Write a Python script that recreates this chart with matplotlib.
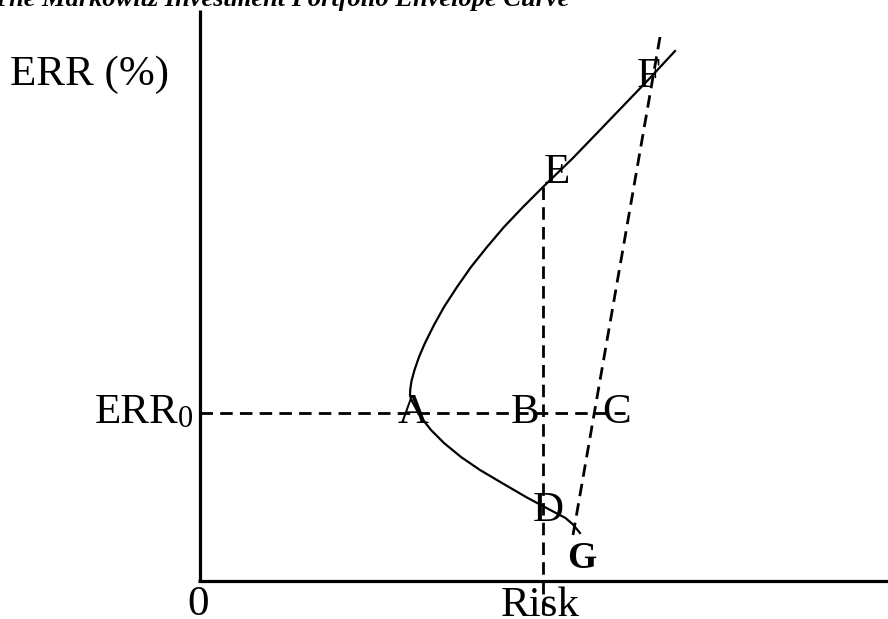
import matplotlib
matplotlib.use("Agg")
import matplotlib.pyplot as plt

# ---- data (risk / expected rate of return, diagram units) ----
frontier_risk = [475, 450, 425, 400, 372, 343, 323, 304, 287, 271, 257, 244, 234, 225,
                 219, 214.5, 211.5, 210.3, 210, 211, 213, 220.7, 231, 244, 261, 280,
                 302, 326, 346.5, 365.5, 373, 380]
frontier_return = [530, 503, 477, 451, 422, 394, 374, 354, 334, 314, 294, 274, 256, 238,
                   224, 211, 200, 192, 186, 182, 178, 164, 151, 138, 124, 111,
                   98, 84, 73, 63, 56.5, 48]

err0_line_risk = [0, 425]
err0_line_return = [168, 168]

risk_b_line_risk = [343, 343]
risk_b_line_return = [394, -40]

cml_risk = [460, 373]
cml_return = [544, 46]

axis_x_risk = [-2, 690]
axis_x_return = [0, 0]
axis_y_risk = [0, 0]
axis_y_return = [-1, 571]

point_labels = ["A", "B", "C", "D", "E", "F"]
point_label_risk = [213, 325, 417, 348, 357, 449]
point_label_return = [158, 158, 158, 60, 398, 494]

title_text = "The Markowitz Investment Portfolio Envelope Curve"
y_label = "ERR (%)"
x_label = "Risk"
origin_label = "0"

W, H = 888, 619
fig = plt.figure(figsize=(W / 100, H / 100), dpi=100)
ax = fig.add_axes([0, 0, 1, 1])
ax.set_xlim(-200, W - 200)
ax.set_ylim(581 - H, 581)
ax.axis("off")

serif = ["Liberation Serif", "DejaVu Serif"]

# axes lines
ax.plot(axis_x_risk, axis_x_return, color="black", lw=2.3, solid_capstyle="butt")
ax.plot(axis_y_risk, axis_y_return, color="black", lw=2.3, solid_capstyle="butt")

# envelope curve
ax.plot(frontier_risk, frontier_return, color="black", lw=1.6,
        solid_joinstyle="round", antialiased=True)

# dashed lines
dash = (4.5, 2.6)
ax.plot(err0_line_risk, err0_line_return, color="black", lw=2.0, dashes=dash)
ax.plot(risk_b_line_risk, risk_b_line_return, color="black", lw=2.0, dashes=dash)
ax.plot(cml_risk, cml_return, color="black", lw=2.0, dashes=dash)

fs = 31
for lab, x, y in zip(point_labels, point_label_risk, point_label_return):
    ax.text(x, y, lab, fontsize=fs, family=serif, ha="center", va="baseline")

ax.text(382, 13, "G", fontsize=27, family=serif, fontweight="bold", ha="center", va="baseline")

ax.text(-190, 496, y_label, fontsize=fs, family=serif, ha="left", va="baseline")
ax.text(-22, 158, "ERR", fontsize=fs, family=serif, ha="right", va="baseline")
ax.text(-22, 154, "0", fontsize=22, family=serif, ha="left", va="baseline")

ax.text(-2, -34, origin_label, fontsize=fs, family=serif, ha="center", va="baseline")
ax.text(340, -35, x_label, fontsize=fs, family=serif, ha="center", va="baseline")

ax.text(-207, 575, title_text, fontsize=19, family=serif, fontweight="bold",
        fontstyle="italic", ha="left", va="baseline")

fig.savefig("out.png", dpi=100)
